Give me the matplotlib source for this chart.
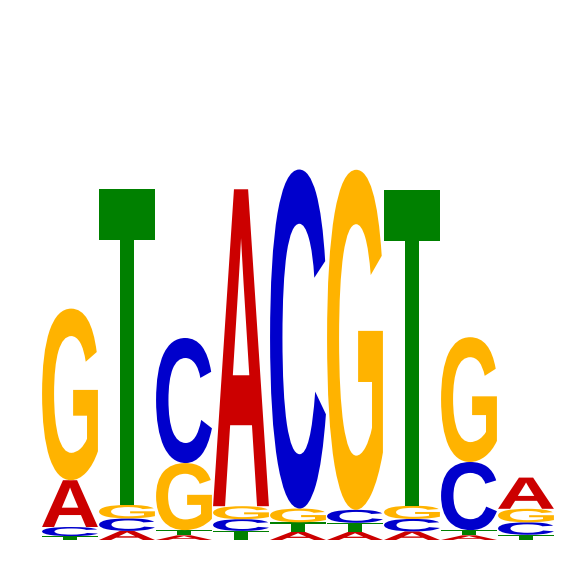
import numpy as np
import matplotlib
matplotlib.use("Agg")
import matplotlib.pyplot as plt
from matplotlib.textpath import TextPath
from matplotlib.patches import PathPatch
from matplotlib.font_manager import FontProperties
from matplotlib.transforms import Affine2D

positions = np.arange(1, 10)
bases = ["A", "C", "G", "T"]

# letter heights in bits, one value per position
A = [0.180, 0.035, 0.018, 1.219, 0.031, 0.031, 0.033, 0.018, 0.120]
C = [0.035, 0.048, 0.481, 0.045, 1.304, 0.050, 0.048, 0.262, 0.048]
G = [0.660, 0.052, 0.258, 0.050, 0.053, 1.308, 0.051, 0.480, 0.052]
T = [0.015, 1.215, 0.020, 0.035, 0.037, 0.035, 1.215, 0.020, 0.020]

colors = {"A": "#CC0000", "C": "#0000CC", "G": "#FFB300", "T": "#008000"}

font = FontProperties(family="Liberation Sans", weight="bold")


def draw_letter(ax, ch, x, y, w, h, color):
    path = TextPath((0, 0), ch, size=1, prop=font)
    ext = path.get_extents()
    tr = (Affine2D()
          .translate(-ext.x0, -ext.y0)
          .scale(w / ext.width, h / ext.height)
          .translate(x, y))
    ax.add_patch(PathPatch(tr.transform_path(path), facecolor=color,
                           edgecolor="none", lw=0))


fig = plt.figure(figsize=(5.66, 5.66), dpi=100)
ax = fig.add_axes([0, 0, 1, 1])

heights = {"A": A, "C": C, "G": G, "T": T}
width = 0.98
for i, pos in enumerate(positions):
    col = sorted(bases, key=lambda b: heights[b][i])
    y = 0.0
    for b in col:
        h = heights[b][i]
        draw_letter(ax, b, pos - width / 2, y, width, h, colors[b])
        y += h

ax.set_xlim(-0.228, 9.702)
ax.set_ylim(-0.1, 2.077)
ax.axis("off")

fig.savefig("out.png", dpi=100)
